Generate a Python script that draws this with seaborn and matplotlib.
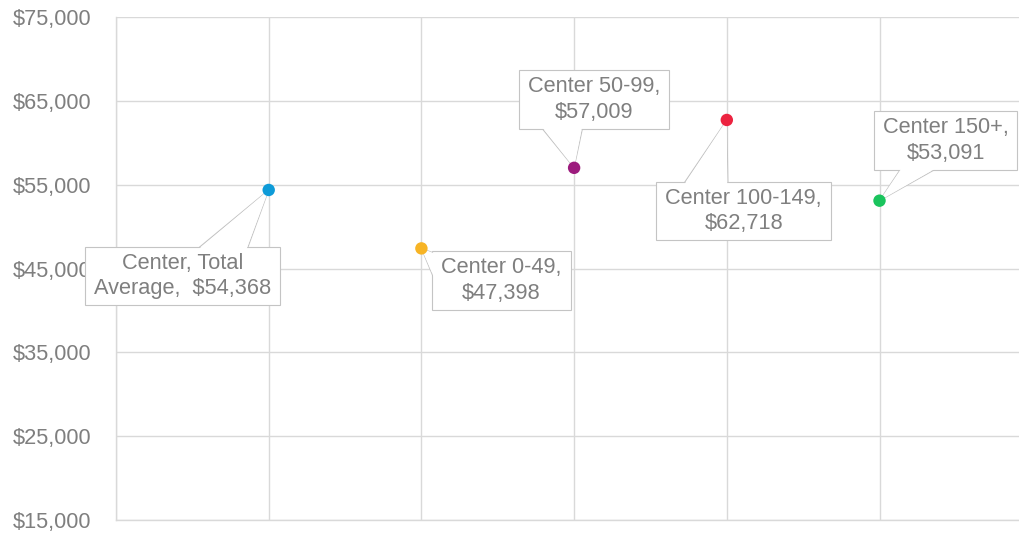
import matplotlib
matplotlib.use("Agg")
import matplotlib.pyplot as plt
from matplotlib.patches import Rectangle
from matplotlib.transforms import IdentityTransform
import pandas as pd
import seaborn as sns

# values
groups = ["Center, Total\nAverage,  $54,368", "Center 0-49,\n$47,398", "Center 50-99,\n$57,009",
          "Center 100-149,\n$62,718", "Center 150+,\n$53,091"]
positions = [1, 2, 3, 4, 5]
salary = [54368, 47398, 57009, 62718, 53091]
colors = ["#0e9bd8", "#f7b425", "#9c1b7d", "#ec2340", "#1ac45d"]
yticks = [15000, 25000, 35000, 45000, 55000, 65000, 75000]

df = pd.DataFrame({"group": groups, "x": positions, "salary": salary})

sns.set_style("white")
plt.rcParams["font.family"] = ["Liberation Sans", "DejaVu Sans"]

fig = plt.figure(figsize=(10.2, 5.35), dpi=100)
ax = fig.add_axes([116 / 1020, 15 / 535, 1 - 116 / 1020, 503 / 535])

grid_c = "#d9d9d9"
text_c = "#7f7f7f"
edge_c = "#c4c4c4"
fsize = 15.7

sns.scatterplot(data=df, x="x", y="salary", hue="group", palette=colors,
                s=80, linewidth=0, legend=False, ax=ax, zorder=6)

ax.set_xlim(0, 5.92)
ax.set_ylim(15000, 75000)
ax.set_xticks(range(0, 6))
ax.set_xticklabels([])
ax.set_yticks(yticks)
ax.set_yticklabels([f"${v:,.0f}" for v in yticks])
ax.tick_params(axis="y", length=0, pad=18, labelsize=fsize, labelcolor=text_c)
ax.tick_params(axis="x", length=0)
ax.grid(True, color=grid_c, lw=1)
ax.set_axisbelow(True)
ax.set_xlabel("")
ax.set_ylabel("")
for side in ["top", "right"]:
    ax.spines[side].set_visible(False)
for side in ["left", "bottom"]:
    ax.spines[side].set_color(grid_c)
    ax.spines[side].set_linewidth(1)

# callout layout in pixels, relative to each point
box_offsets = [(-86, -86), (80, -32), (20, 68), (17, -91), (66, 60)]
# pointer wedge: base sits inside the box, width in pixels at the base
wedge_starts = [(-55, -78), (29, -28), (-14, 58), (-27, -91), (55, 51)]
wedge_widths = [52, 35, 57, 60, 36]
pad_x, pad_y = 9, 6

labels = []
for (_, row), boff, wst, ww in zip(df.iterrows(), box_offsets, wedge_starts, wedge_widths):
    xy = (row["x"], row["salary"])
    # outline under the box, white fill over the box edge, text on top
    for z, w, ec, lw in [(3, ww, edge_c, 0.8), (3.6, ww * 0.96, "none", 0)]:
        ax.annotate("", xy=xy, xytext=wst, textcoords="offset pixels", zorder=z,
                    arrowprops=dict(arrowstyle=f"wedge,tail_width={w},shrink_factor=0.5",
                                    mutation_scale=0.72, fc="white", ec=ec, lw=lw,
                                    shrinkA=0, shrinkB=0))
    t = ax.annotate(row["group"], xy=xy, xytext=boff, textcoords="offset pixels",
                    ha="center", va="center", fontsize=fsize, color=text_c,
                    linespacing=1.3, zorder=5)
    labels.append(t)

# boxes sized from the rendered text
fig.canvas.draw()
renderer = fig.canvas.get_renderer()
for t in labels:
    bb = t.get_window_extent(renderer)
    ax.add_patch(Rectangle((bb.x0 - pad_x, bb.y0 - pad_y), bb.width + 2 * pad_x,
                           bb.height + 2 * pad_y, transform=IdentityTransform(),
                           fc="white", ec=edge_c, lw=0.8, zorder=3.3, clip_on=False))

fig.savefig("out.png", dpi=100)
